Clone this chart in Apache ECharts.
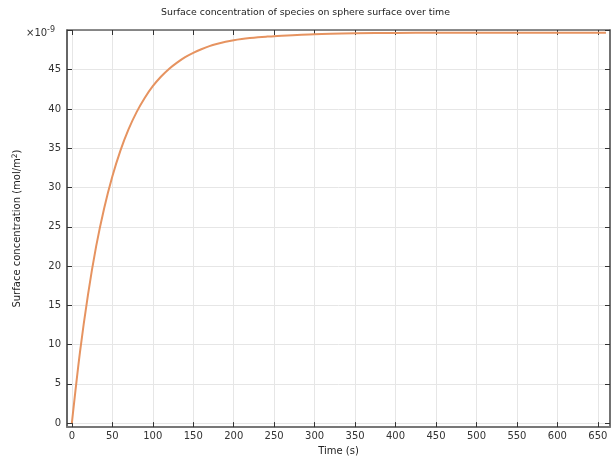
<!DOCTYPE html>
<html>
<head>
<meta charset="utf-8">
<title>Surface concentration</title>
<script src="https://cdn.jsdelivr.net/npm/echarts@6/dist/echarts.min.js"></script>
<style>
  html, body { margin: 0; padding: 0; background: #fff; }
  #chart { width: 611px; height: 461px; }
</style>
</head>
<body>
<div id="chart"></div>
<script>
  // time (s) and surface concentration (x1e-9 mol/m^2)
  const timeS = [0, 10, 20, 30, 40, 50, 60, 70, 80, 90, 100, 110, 120, 130, 140, 150,
    160, 170, 180, 190, 200, 210, 220, 230, 240, 250, 300, 350, 400, 450, 500, 550,
    600, 650, 660];
  const concentration = [0, 9.0, 16.4, 22.5, 27.4, 31.4, 34.7, 37.4, 39.6, 41.4, 42.9,
    44.1, 45.1, 45.9, 46.6, 47.15, 47.6, 48.0, 48.3, 48.55, 48.75, 48.9, 49.02, 49.12,
    49.2, 49.27, 49.52, 49.63, 49.68, 49.7, 49.7, 49.7, 49.7, 49.7, 49.7];

  const xTicks = [0, 50, 100, 150, 200, 250, 300, 350, 400, 450, 500, 550, 600, 650];
  const yTicks = [0, 5, 10, 15, 20, 25, 30, 35, 40, 45, 50];
  const yLabels = [0, 5, 10, 15, 20, 25, 30, 35, 40, 45];

  const font = 'DejaVu Sans';
  const chart = echarts.init(document.getElementById('chart'), null, { renderer: 'canvas' });

  const frameAxis = (pos, ticks, color) => ({
    type: 'value',
    position: pos,
    axisLine: { show: true, onZero: false, lineStyle: { color: color, width: 1.5 } },
    axisTick: { show: true, inside: true, length: 5, customValues: ticks, lineStyle: { color: '#333' } },
    axisLabel: { show: false },
    splitLine: { show: false }
  });

  const option = {
    animation: false,
    backgroundColor: '#fff',
    title: {
      text: 'Surface concentration of species on sphere surface over time',
      left: 'center',
      top: 3,
      textStyle: { fontFamily: font, fontSize: 9.4, fontWeight: 'normal', color: '#222' }
    },
    grid: { left: 67, right: 1, top: 30, bottom: 33 },
    graphic: [{
      type: 'text',
      left: 26,
      top: 26,
      style: {
        text: '×10{s|-9}',
        rich: { s: { fontSize: 8, fontFamily: font, verticalAlign: 'top', padding: [0, 0, 6, 0] } },
        fontFamily: font,
        fontSize: 10,
        fill: '#333'
      }
    }],
    xAxis: [{
      type: 'value',
      min: -6,
      max: 665,
      name: 'Time (s)',
      nameLocation: 'middle',
      nameGap: 16,
      nameTextStyle: { fontFamily: font, fontSize: 10, color: '#222' },
      axisLine: { show: true, onZero: false, lineStyle: { color: '#777', width: 2 } },
      axisTick: { show: true, inside: true, length: 5, customValues: xTicks, lineStyle: { color: '#333' } },
      axisLabel: { customValues: xTicks, fontFamily: font, fontSize: 10, color: '#333', margin: 4 },
      splitLine: { show: true, lineStyle: { color: '#e6e6e6', width: 1 } }
    }, Object.assign(frameAxis('top', xTicks, '#666'), { min: -6, max: 665 })],
    yAxis: [{
      type: 'value',
      min: -0.5,
      max: 50.05,
      name: 'Surface concentration (mol/m{s|2})',
      nameLocation: 'middle',
      nameGap: 43,
      nameTextStyle: {
        fontFamily: font, fontSize: 10, color: '#222',
        rich: { s: { fontSize: 7.5, fontFamily: font, verticalAlign: 'top', padding: [0, 0, 5, 0] } }
      },
      axisLine: { show: true, onZero: false, lineStyle: { color: '#333', width: 1.5 } },
      axisTick: { show: true, inside: true, length: 5, customValues: yTicks, lineStyle: { color: '#333' } },
      axisLabel: { customValues: yLabels, fontFamily: font, fontSize: 10, color: '#333', margin: 6 },
      splitLine: { show: true, lineStyle: { color: '#e6e6e6', width: 1 } }
    }, Object.assign(frameAxis('right', yTicks, '#444'), { min: -0.5, max: 50.05 })],
    series: [{
      type: 'line',
      name: 'Surface concentration',
      data: timeS.map((t, i) => [t, concentration[i]]),
      showSymbol: false,
      smooth: 0.3,
      lineStyle: { color: '#e69360', width: 2 },
      itemStyle: { color: '#e69360' }
    }]
  };

  chart.setOption(option);
</script>
</body>
</html>
